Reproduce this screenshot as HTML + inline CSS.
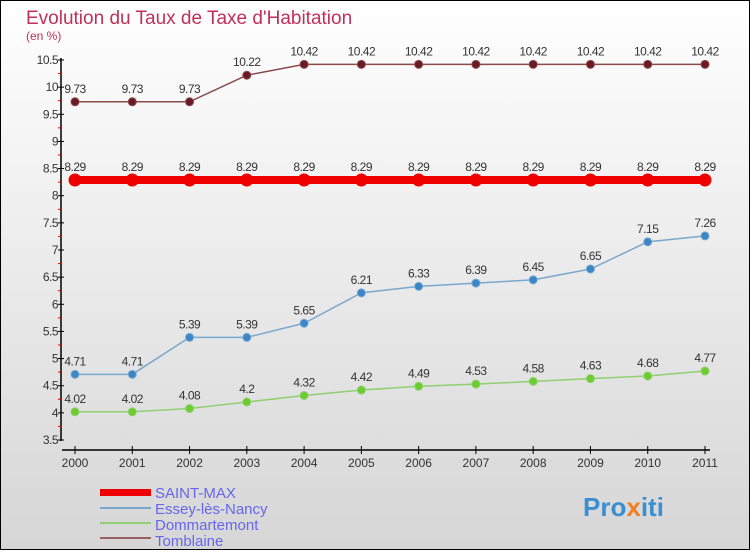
<!DOCTYPE html>
<html><head><meta charset="utf-8"><style>
html,body{margin:0;padding:0}
body{width:750px;height:550px;overflow:hidden;font-family:"Liberation Sans",sans-serif}
</style></head><body>
<svg id="chart" width="750" height="550" xmlns="http://www.w3.org/2000/svg" font-family="Liberation Sans, sans-serif">
<defs><linearGradient id="bg" x1="0" y1="0" x2="0" y2="1"><stop offset="0" stop-color="#ffffff"/><stop offset="1" stop-color="#d6d6d6"/></linearGradient></defs>
<rect x="0.5" y="0.5" width="749" height="549" fill="url(#bg)" stroke="#000"/>
<text x="26" y="24" font-size="19" fill="#c0305a">Evolution du Taux de Taxe d'Habitation</text>
<text x="26" y="40" font-size="12" fill="#c0305a">(en %)</text>
<g id="axes"></g><g id="series"></g>
<g>
<rect x="100" y="489" width="51" height="7" fill="#e00"/>
<text x="155" y="498" font-size="15" fill="#6666ee">SAINT-MAX</text>
<line x1="100" y1="508" x2="151" y2="508" stroke="#7aa8cc" stroke-width="2"/>
<text x="155" y="514" font-size="15" fill="#6666ee">Essey-lès-Nancy</text>
<line x1="100" y1="523" x2="151" y2="523" stroke="#90d070" stroke-width="2"/>
<text x="155" y="530" font-size="15" fill="#6666ee">Dommartemont</text>
<line x1="100" y1="538" x2="151" y2="538" stroke="#9a6060" stroke-width="2"/>
<text x="155" y="546" font-size="15" fill="#6666ee">Tomblaine</text>
</g>
<text x="583" y="516" font-size="26" font-weight="bold" fill="#3a8fd0">Pro<tspan fill="#f08020">x</tspan>iti</text>
</svg>
<script>
const years=[2000,2001,2002,2003,2004,2005,2006,2007,2008,2009,2010,2011];
const saintMax=[8.29,8.29,8.29,8.29,8.29,8.29,8.29,8.29,8.29,8.29,8.29,8.29];
const essey=[4.71,4.71,5.39,5.39,5.65,6.21,6.33,6.39,6.45,6.65,7.15,7.26];
const dommartemont=[4.02,4.02,4.08,4.2,4.32,4.42,4.49,4.53,4.58,4.63,4.68,4.77];
const tomblaine=[9.73,9.73,9.73,10.22,10.42,10.42,10.42,10.42,10.42,10.42,10.42,10.42];
const yTicks=[3.5,4,4.5,5,5.5,6,6.5,7,7.5,8,8.5,9,9.5,10,10.5];
const NS="http://www.w3.org/2000/svg";
function X(i){return 75+i*(630/(years.length-1));}
function Y(v){return 440-(v-3.5)*(380/7);}
function mk(t,a,p){const e=document.createElementNS(NS,t);for(const k in a)e.setAttribute(k,a[k]);p.appendChild(e);return e;}
const ax=document.getElementById('axes');
let l=mk('line',{x1:61,y1:58,x2:61,y2:441,stroke:'#000','stroke-width':1.5},ax);


l=mk('line',{x1:62,y1:450,x2:710,y2:450,stroke:'#000','stroke-width':1.5},ax);


yTicks.forEach((v,i)=>{
 mk('line',{x1:58,y1:Y(v),x2:64,y2:Y(v),stroke:'#000'},ax);
 if(i<yTicks.length-1)mk('line',{x1:58,y1:Y(v+0.25),x2:61,y2:Y(v+0.25),stroke:'#e00'},ax);
 const t=mk('text',{x:58,y:Y(v)+4,'text-anchor':'end','font-size':12,fill:'#333','letter-spacing':'-0.5'},ax);
 
 
 t.textContent=String(v);
});
years.forEach((yr,i)=>{
 mk('line',{x1:X(i),y1:446,x2:X(i),y2:454,stroke:'#000'},ax);
 const t=mk('text',{x:X(i),y:467,'text-anchor':'middle','font-size':12,fill:'#333'},ax);
 
 
 t.textContent=String(yr);
});
const sg=document.getElementById('series');
function draw(name,vals,color,dot,w,r){
 const g=mk('g',{},sg);
 
 
 mk('polyline',{points:vals.map((v,i)=>X(i)+','+Y(v)).join(' '),fill:'none',stroke:color,'stroke-width':w},g);
 vals.forEach((v,i)=>{
  const c=mk('circle',{cx:X(i),cy:Y(v),r:r,fill:dot,stroke:color,'stroke-width':1},g);
  
  
  const t=mk('text',{x:X(i),y:Y(v)-9,'text-anchor':'middle','font-size':12,fill:'#333','letter-spacing':'-0.5'},g);
  
  
  t.textContent=String(v);
 });
}
draw('tomblaine',tomblaine,'#8a4a4a','#6a1a22',1.5,4);
draw('saint-max',saintMax,'#ee0000','#ee0000',8,6);
draw('essey',essey,'#7aa8cc','#3a86c8',1.5,4);
draw('dommartemont',dommartemont,'#90d070','#6ccc30',1.5,4);
</script>
</body></html>
